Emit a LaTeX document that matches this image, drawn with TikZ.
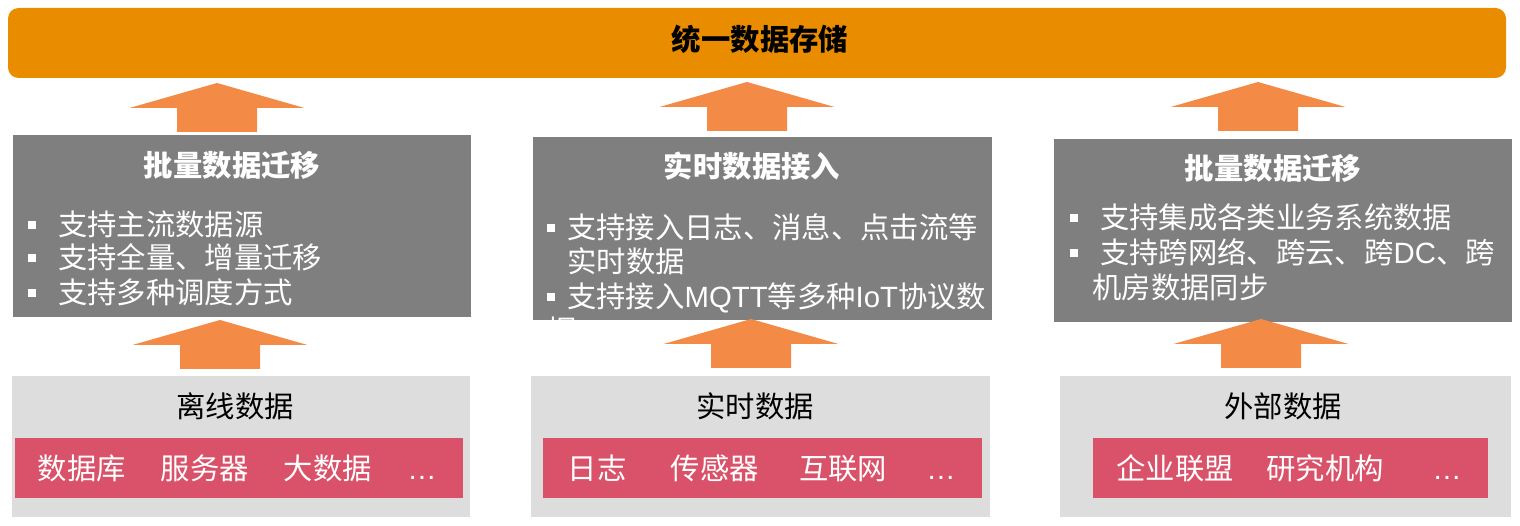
\documentclass[tikz,border=0pt]{standalone}
\usepackage{fontspec}
\setmainfont{Noto Sans CJK SC}
\newfontfamily\latinfont{Liberation Sans}
\usepackage{tikz}
\usepackage{xcolor}
\usetikzlibrary{fit}
\definecolor{storeorange}{HTML}{EA8C00}
\definecolor{arrorange}{HTML}{F38B47}
\definecolor{darkbox}{HTML}{7F7F7F}
\definecolor{lightbox}{HTML}{DDDDDD}
\definecolor{srcred}{HTML}{DA5269}
\newcommand\fsz{\fontsize{16.7pt}{19.8pt}\selectfont}
\newcommand\sqb[1]{\makebox[#1][l]{\rule[4pt]{4.5pt}{4.5pt}}}
\newcommand\uparr[1]{\fill[arrorange] (#1) ++(-40,0) -- ++(0,-24) -- ++(-47.5,0) -- ++(87.5,-25) -- ++(87.5,25) -- ++(-47.5,0) -- ++(0,24) -- cycle;}

\begin{document}
\begin{tikzpicture}[x=0.02cm,y=-0.02cm,
  every node/.style={font=\fsz},
  area/.style={inner sep=0pt, draw=none},
  head/.style={font=\fsz\bfseries, text=white},
  ln/.style={anchor=base west, inner sep=0pt, text=white},
  src/.style={anchor=base, inner sep=0pt, text=white}]
\useasboundingbox (0,0) rectangle (1520,526);
\node[area, fill=storeorange, rounded corners=6pt, fit={(8,8) (1506,78)}] (store) {};
\node[font=\fsz\bfseries] (storet) at (760,39) {统一数据存储};
\node[area, fill=darkbox, fit={(13,135) (471,317)}] (g1) {};
\node[area, fill=darkbox, fit={(533,137) (992,320)}] (g2) {};
\node[area, fill=darkbox, fit={(1054,139) (1512,322)}] (g3) {};
\node[head] (g1t) at (232,165) {批量数据迁移};
\node[head] (g2t) at (752,166) {实时数据接入};
\node[head] (g3t) at (1273,168) {批量数据迁移};
\node[ln] (g1a) at (28,236) {\sqb{17pt}支持主流数据源};
\node[ln] (g1b) at (28,269) {\sqb{17pt}支持全量、增量迁移};
\node[ln] (g1c) at (28,304) {\sqb{17pt}支持多种调度方式};
\node[ln] (g2a) at (547,239) {\sqb{11.3pt}支持接入日志、消息、点击流等};
\node[ln] (g2b) at (567,273) {实时数据};
\node[ln] (g2c) at (547,308) {\sqb{11.3pt}支持接入{\latinfont MQTT}等多种{\latinfont IoT}协议数};
\node[ln] (g2d) at (547,342) {据};
\node[ln] (g3a) at (1070,229) {\sqb{17pt}支持集成各类业务系统数据};
\node[ln] (g3b) at (1070,264) {\sqb{17pt}支持跨网络、跨云、跨{\latinfont DC}、跨};
\node[ln] (g3c) at (1092,299) {机房数据同步};
\node[area, fill=lightbox, fit={(12,376) (470,517)}] (s1) {};
\node[area, fill=lightbox, fit={(531,376) (990,517)}] (s2) {};
\node[area, fill=lightbox, fit={(1060,376) (1511,517)}] (s3) {};
\node (s1t) at (235,406) {离线数据};
\node (s2t) at (755,406) {实时数据};
\node (s3t) at (1283,406) {外部数据};
\node[area, fill=srcred, fit={(15,438) (463,498)}] (r1) {};
\node[area, fill=srcred, fit={(543,438) (982,498)}] (r2) {};
\node[area, fill=srcred, fit={(1093,438) (1488,498)}] (r3) {};
\node[src] (r1a) at (82,479) {数据库};
\node[src] (r1b) at (205,479) {服务器};
\node[src] (r1c) at (328,479) {大数据};
\node[src] (r1d) at (422,479) {\latinfont …};
\node[src] (r2a) at (597,479) {日志};
\node[src] (r2b) at (715,479) {传感器};
\node[src] (r2c) at (843,479) {互联网};
\node[src] (r2d) at (941,479) {\latinfont …};
\node[src] (r3a) at (1175,479) {企业联盟};
\node[src] (r3b) at (1325,479) {研究机构};
\node[src] (r3d) at (1447,479) {\latinfont …};
\coordinate (u1) at (217,132);
\coordinate (u2) at (747,131);
\coordinate (u3) at (1258,131);
\coordinate (d1) at (220,369);
\coordinate (d2) at (751,368);
\coordinate (d3) at (1261,368);
\uparr{u1}
\uparr{u2}
\uparr{u3}
\uparr{d1}
\uparr{d2}
\uparr{d3}
\end{tikzpicture}
\end{document}
